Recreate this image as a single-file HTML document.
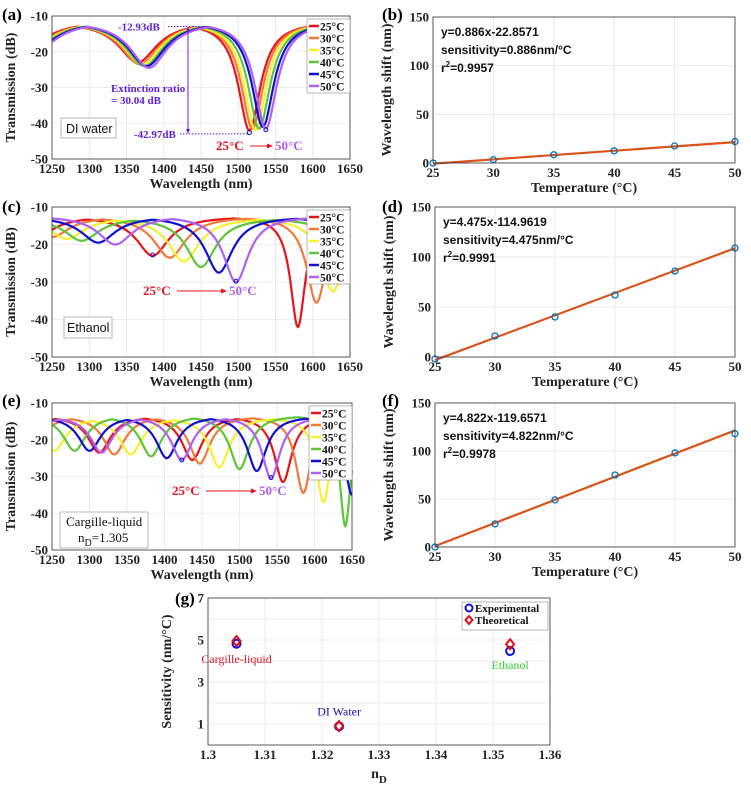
<!DOCTYPE html>
<html><head><meta charset="utf-8">
<style>
html,body{margin:0;padding:0;background:#fff;}
svg{display:block;}
text{font-family:"Liberation Serif",serif;font-weight:bold;}
.sans{font-family:"Liberation Sans",sans-serif;}
</style></head>
<body>
<svg id="fig" width="751" height="787" viewBox="0 0 751 787" xmlns="http://www.w3.org/2000/svg"></svg>
<script>
// ---------- data ----------
const temps = ["25°C","30°C","35°C","40°C","45°C","50°C"];
const colors = ["#e8141c","#f07a3a","#f5f030","#5ec43a","#1010d0","#b060f0"];
// spectra dips: per temperature list of [center nm, min dB]
const dipsA = [
 [[1215,-19],[1365,-23],[1515,-42]],
 [[1219,-19],[1368,-23.5],[1519,-41.5]],
 [[1222,-19],[1371,-23.5],[1523,-42]],
 [[1225,-19],[1374,-24],[1528,-41.5]],
 [[1228,-19],[1377,-24],[1533,-41]],
 [[1231,-19],[1380,-24.5],[1537,-41.5]]
];
const topA = [-11.5,-11.5,-11.5,-11.5,-11.5,-11.5];
const dipsC = [
 [[1225,-19],[1385,-23],[1580,-42]],
 [[1250,-18],[1408,-23.5],[1605,-35.5]],
 [[1270,-18.5],[1427,-24.5],[1627,-32.5]],
 [[1290,-19],[1450,-26],[1655,-29]],
 [[1312,-19.5],[1474,-27.5],[1680,-30]],
 [[1335,-20],[1497,-30],[1700,-30]]
];
const dipsE = [
 [[1200,-22],[1313,-23.5],[1437,-25.5],[1558,-31.5],[1680,-40]],
 [[1222,-22],[1333,-24],[1447,-26.5],[1585,-34.5]],
 [[1253,-23],[1355,-24],[1473,-27.5],[1612,-37]],
 [[1280,-23],[1382,-24.5],[1500,-28],[1641,-43.5]],
 [[1196,-22],[1300,-23],[1403,-25],[1523,-28.5],[1650,-35]],
 [[1210,-22],[1316,-23.5],[1423,-25.5],[1542,-30.5],[1665,-36]]
];
const tempX = [25,30,35,40,45,50];
const shiftB = [0,3.5,8.5,12.5,17.5,22];
const shiftD = [-2,21,40,62,86,109];
const shiftF = [0,24,49,75,98,118];
const fitB = [0.886,-22.8571];
const fitD = [4.475,-114.9619];
const fitF = [4.822,-119.6571];
const gLabels = ["Cargille-liquid","DI Water","Ethanol"];
const gN = [1.305,1.323,1.353];
const gExp = [4.822,0.886,4.475];
const gTheo = [4.95,0.9,4.8];

// ---------- helpers ----------
const svg = document.getElementById('fig');
const NS = "http://www.w3.org/2000/svg";
function el(tag, attrs, parent, txt){
  const e = document.createElementNS(NS, tag);
  for (const k in attrs) e.setAttribute(k, attrs[k]);
  if (txt !== undefined) e.textContent = txt;
  (parent||svg).appendChild(e);
  return e;
}
function grp(name){
  const g = el('g',{});
  
  
  return g;
}
function axes(g, box, xd, yd, xt, yt, xlabelFmt, ylabelFmt, xtitle, ytitle, ylabTicks, yOff){
  const sx = v => box.l + (v-xd[0])/(xd[1]-xd[0])*(box.r-box.l);
  const sy = v => box.b - (v-yd[0])/(yd[1]-yd[0])*(box.b-box.t);
  el('rect',{x:box.l,y:box.t,width:box.r-box.l,height:box.b-box.t,fill:'#fff'},g);
  xt.forEach(v=>{ el('line',{x1:sx(v),x2:sx(v),y1:box.t,y2:box.b,stroke:'#e6e6e6','stroke-width':0.8},g); });
  yt.forEach(v=>{ el('line',{x1:box.l,x2:box.r,y1:sy(v),y2:sy(v),stroke:'#e6e6e6','stroke-width':0.8},g); });
  const labsX = grp('x-tick-labels'); g.appendChild(labsX);
  xt.forEach(v=>{
    el('text',{x:sx(v),y:box.b+14,'text-anchor':'middle','font-size':13,fill:'#222'},labsX,xlabelFmt(v));
  });
  const labsY = grp('y-tick-labels'); g.appendChild(labsY);
  (ylabTicks||yt).forEach(v=>{
    el('text',{x:box.l-4,y:sy(v)+4.5,'text-anchor':'end','font-size':13,fill:'#222'},labsY,ylabelFmt(v));
  });
  if (xtitle){
    const xtT = el('text',{x:(box.l+box.r)/2,y:box.b+29,'text-anchor':'middle','font-size':14,fill:'#222'},g,xtitle);
    
    
  }
  const cy=(box.t+box.b)/2, off = yOff||37;
  const ytT = el('text',{x:box.l-off,y:cy,'text-anchor':'middle','font-size':14,fill:'#222',transform:`rotate(-90 ${box.l-off} ${cy})`},g,ytitle);
  
  
  return {sx,sy};
}
function frame(g, box){
  el('rect',{x:box.l,y:box.t,width:box.r-box.l,height:box.b-box.t,fill:'none',stroke:'#333','stroke-width':0.8},g);
}
function spectrum(dips, lam, top, W){
  let dmax = 0;
  dips.forEach(d=>{
    const depth = top - d[1];
    const f = Math.max(0, Math.min(1, (depth-8)/20));
    const ww = W[0] - (W[0]-W[1])*f;
    const v = depth/(1+Math.pow((lam-d[0])/ww,2));
    if (v>dmax) dmax=v;
  });
  return top - dmax;
}
function spectraPanel(name, box, dipsSet, tops, W){
  const g = grp(name);
  const a = axes(g, box, [1250,1650], [-50,-10], [1250,1300,1350,1400,1450,1500,1550,1600,1650], [-50,-40,-30,-20,-10],
    v=>String(v), v=>String(v), 'Wavelength (nm)', 'Transmission (dB)');
  dipsSet.forEach((dips,i)=>{
    let d='';
    for(let lam=1250; lam<=1650; lam+=1){
      let y = spectrum(dips, lam, tops[i], W);
      y = Math.max(-50, y);
      d += (lam===1250?'M':'L') + a.sx(lam).toFixed(1)+','+a.sy(y).toFixed(1);
    }
    const p = el('path',{d:d,fill:'none',stroke:colors[i],'stroke-width':2.2},g);
    
    
  });
  frame(g, box);
  const lg = grp('legend'); g.appendChild(lg);
  const lx = box.r-43, ly = box.t+3;
  el('rect',{x:lx,y:ly,width:43,height:74,fill:'#fff',stroke:'#888','stroke-width':0.6},lg);
  temps.forEach((t,i)=>{
    const e = grp('legend-entry'); lg.appendChild(e);
    el('line',{x1:lx+2,x2:lx+12,y1:ly+7+i*12,y2:ly+7+i*12,stroke:colors[i],'stroke-width':2.5},e);
    el('text',{x:lx+13,y:ly+11.5+i*12,'font-size':11.5,fill:'#111'},e,t);
  });
  return {g,a};
}
function linePanel(name, box, ys, fit, eq, sens, r2){
  const g = grp(name);
  const a = axes(g, box, [25,50], [0,150], tempX, [0,50,100,150], v=>String(v), v=>String(v),
    'Temperature (°C)', 'Wavelength shift (nm)', null, 42);
  const ln = el('line',{x1:a.sx(25),y1:a.sy(fit[0]*25+fit[1]),x2:a.sx(50),y2:a.sy(fit[0]*50+fit[1]),stroke:'#d95319','stroke-width':2.2},g);
  
  
  tempX.forEach((x,i)=>{
    const c = el('circle',{cx:a.sx(x),cy:a.sy(ys[i]),r:3,fill:'none',stroke:'#0072bd','stroke-width':1.3},g);
    
    
  });
  frame(g, box);
  const tg = grp('fit-annotation'); g.appendChild(tg);
  el('text',{x:box.l+8,y:box.t+19,'font-size':12,class:'sans',fill:'#111'},tg,eq);
  el('text',{x:box.l+8,y:box.t+37,'font-size':12,class:'sans',fill:'#111'},tg,sens);
  const r = el('text',{x:box.l+8,y:box.t+55,'font-size':12,class:'sans',fill:'#111'},tg);
  r.innerHTML = 'r<tspan dy="-5" font-size="8">2</tspan><tspan dy="5">'+r2+'</tspan>';
  return g;
}
function label(x,y,t){
  const e = el('text',{x:x,y:y,'font-size':17,fill:'#000'},svg,t);
  
  
}
function arrowText(g, x1, x2, y){
  el('text',{x:x1,y:y+4,'font-size':13,fill:'#e8141c'},g,'25°C');
  el('line',{x1:x1+34,x2:x2-8,y1:y,y2:y,stroke:'#e8141c','stroke-width':1},g);
  el('polygon',{points:`${x2-3},${y} ${x2-9},${y-2.5} ${x2-9},${y+2.5}`,fill:'#e8141c'},g);
  el('text',{x:x2-1,y:y+4,'font-size':13,fill:'#b060f0'},g,'50°C');
}

// ---------- panel (a) ----------
label(2,20,'(a)');
const boxA = {l:52,r:350,t:16,b:159};
const pa = spectraPanel('panel-a-di-water', boxA, dipsA, topA, [34,18]);
(function(){
  const g = pa.g, a = pa.a;
  const an = grp('extinction-annotation'); g.appendChild(an);
  el('line',{x1:168,x2:210,y1:a.sy(-12.93),y2:a.sy(-12.93),stroke:'#6020e0','stroke-width':1,'stroke-dasharray':'1.5,1.5'},an);
  el('text',{x:118,y:a.sy(-12.93)+4,'font-size':11,fill:'#6020e0'},an,'-12.93dB');
  el('line',{x1:180,x2:248,y1:a.sy(-42.97),y2:a.sy(-42.97),stroke:'#6020e0','stroke-width':1,'stroke-dasharray':'1.5,1.5'},an);
  el('text',{x:134,y:a.sy(-42.97)+4,'font-size':11,fill:'#6020e0'},an,'-42.97dB');
  el('line',{x1:188,x2:188,y1:a.sy(-12.93)+4,y2:a.sy(-42.97)-4,stroke:'#6020e0','stroke-width':1},an);
  el('polygon',{points:`188,${a.sy(-12.93)} 186,${a.sy(-12.93)+5} 190,${a.sy(-12.93)+5}`,fill:'#6020e0'},an);
  el('polygon',{points:`188,${a.sy(-42.97)} 186,${a.sy(-42.97)-5} 190,${a.sy(-42.97)-5}`,fill:'#6020e0'},an);
  el('text',{x:111,y:92,'font-size':11,fill:'#6020e0'},an,'Extinction ratio');
  el('text',{x:111,y:104,'font-size':11,fill:'#6020e0'},an,'= 30.04 dB');
  el('circle',{cx:a.sx(1515),cy:a.sy(-42.6),r:2,fill:'none',stroke:'#1010d0'},an);
  el('circle',{cx:a.sx(1537),cy:a.sy(-41.8),r:2,fill:'none',stroke:'#1010d0'},an);
  const ar = grp('shift-arrow'); g.appendChild(ar);
  arrowText(ar, 216, 276, 146);
  const bx = grp('sample-label'); g.appendChild(bx);
  el('rect',{x:61,y:118,width:55,height:20,fill:'#fff',stroke:'#999','stroke-width':0.7},bx);
  el('text',{x:66,y:133,'font-size':12.5,class:'sans',style:'font-weight:normal',fill:'#111'},bx,'DI water');
})();

// ---------- panel (c) ----------
label(2,212,'(c)');
const boxC = {l:52,r:350,t:207,b:357};
const pc = spectraPanel('panel-c-ethanol', boxC, dipsC, [-12.5,-12.5,-12.8,-12.8,-12.5,-12.3], [28,12]);
(function(){
  const g = pc.g, a = pc.a;
  el('circle',{cx:a.sx(1385),cy:a.sy(-22.8),r:2,fill:'none',stroke:'#1010d0'},g);
  el('circle',{cx:a.sx(1497),cy:a.sy(-29.8),r:2,fill:'none',stroke:'#1010d0'},g);
  const ar = grp('shift-arrow'); g.appendChild(ar);
  arrowText(ar, 143, 230, 291);
  const bx = grp('sample-label'); g.appendChild(bx);
  el('rect',{x:64,y:317,width:48,height:21,fill:'#fff',stroke:'#999','stroke-width':0.7},bx);
  el('text',{x:67,y:332,'font-size':12.5,class:'sans',style:'font-weight:normal',fill:'#111'},bx,'Ethanol');
})();

// ---------- panel (e) ----------
label(2,406,'(e)');
const boxE = {l:52,r:352,t:403,b:550};
const pe = spectraPanel('panel-e-cargille', boxE, dipsE, [-13.5,-13.5,-13.8,-13.3,-13.5,-13.5], [19,9]);
(function(){
  const g = pe.g, a = pe.a;
  el('circle',{cx:a.sx(1423),cy:a.sy(-25.5),r:2,fill:'none',stroke:'#1010d0'},g);
  el('circle',{cx:a.sx(1542),cy:a.sy(-30.3),r:2,fill:'none',stroke:'#1010d0'},g);
  const ar = grp('shift-arrow'); g.appendChild(ar);
  arrowText(ar, 172, 260, 491);
  const bx = grp('sample-label'); g.appendChild(bx);
  el('rect',{x:60,y:512,width:88,height:36,fill:'#fff',stroke:'#999','stroke-width':0.7},bx);
  el('text',{x:66,y:526,'font-size':13,style:'font-weight:normal',fill:'#111'},bx,'Cargille-liquid');
  const t = el('text',{x:78,y:542,'font-size':13,style:'font-weight:normal',fill:'#111'},bx);
  t.innerHTML = 'n<tspan dy="4" font-size="10">D</tspan><tspan dy="-4">=1.305</tspan>';
})();

// ---------- panels (b),(d),(f) ----------
label(382,20,'(b)');
linePanel('panel-b-di-water-fit', {l:433,r:735,t:17,b:163}, shiftB, fitB, 'y=0.886x-22.8571','sensitivity=0.886nm/°C','=0.9957');
label(382,212,'(d)');
linePanel('panel-d-ethanol-fit', {l:435,r:735,t:207,b:357}, shiftD, fitD, 'y=4.475x-114.9619','sensitivity=4.475nm/°C','=0.9991');
label(382,406,'(f)');
linePanel('panel-f-cargille-fit', {l:435,r:735,t:403,b:547}, shiftF, fitF, 'y=4.822x-119.6571','sensitivity=4.822nm/°C','=0.9978');

// ---------- panel (g) ----------
label(175,604,'(g)');
(function(){
  const box = {l:208,r:550,t:598,b:745};
  const g = grp('panel-g-sensitivity');
  const a = axes(g, box, [1.3,1.36], [0,7], [1.3,1.31,1.32,1.33,1.34,1.35,1.36], [1,2,3,4,5,6,7],
    v=>(v===1.3?'1.3':v.toFixed(2)), v=>String(v), '', 'Sensitivity (nm/°C)', [1,3,5,7]);
  const xt = el('text',{x:(box.l+box.r)/2,y:box.b+33,'text-anchor':'middle','font-size':14,fill:'#222'},g);
  xt.innerHTML = 'n<tspan dy="5" font-size="11">D</tspan>';
  
  
  gN.forEach((n,i)=>{
    const x=a.sx(n), ye=a.sy(gExp[i]), yt=a.sy(gTheo[i]);
    const c = el('circle',{cx:x,cy:ye,r:4,fill:'none',stroke:'#1010e0','stroke-width':2},g);
    
    
    const d = el('polygon',{points:`${x},${yt-5} ${x+4},${yt} ${x},${yt+5} ${x-4},${yt}`,fill:'none',stroke:'#e01010','stroke-width':2},g);
    
    
  });
  el('text',{x:a.sx(1.305),y:a.sy(4.1)+4,'text-anchor':'middle','font-size':12,style:'font-weight:normal',fill:'#e01020'},g,gLabels[0]);
  el('text',{x:a.sx(1.323),y:a.sy(1.6)+4,'text-anchor':'middle','font-size':12,style:'font-weight:normal',fill:'#1010c0'},g,gLabels[1]);
  el('text',{x:a.sx(1.353),y:a.sy(3.8)+4,'text-anchor':'middle','font-size':12,style:'font-weight:normal',fill:'#30d030'},g,gLabels[2]);
  frame(g, box);
  const lg = grp('legend'); g.appendChild(lg);
  el('rect',{x:462,y:602,width:86,height:28,fill:'#fff',stroke:'#888','stroke-width':0.6},lg);
  const e1 = grp('legend-entry'); lg.appendChild(e1);
  el('circle',{cx:469,cy:608,r:3.5,fill:'none',stroke:'#1010e0','stroke-width':2},e1);
  el('text',{x:475,y:612,'font-size':11,fill:'#111'},e1,'Experimental');
  const e2 = grp('legend-entry'); lg.appendChild(e2);
  el('polygon',{points:'469,616 472.5,620 469,624 465.5,620',fill:'none',stroke:'#e01010','stroke-width':2},e2);
  el('text',{x:475,y:624,'font-size':11,fill:'#111'},e2,'Theoretical');
})();
</script>
</body></html>
